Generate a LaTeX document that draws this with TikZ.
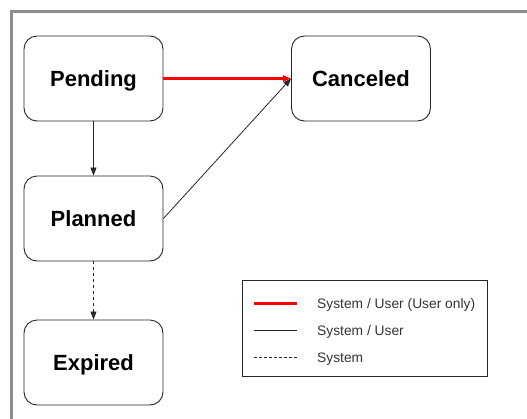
\documentclass[tikz,border=0pt]{standalone}
\usepackage{fontspec}
\setmainfont{Liberation Sans}
\usetikzlibrary{arrows.meta}
\usetikzlibrary{positioning}
\tikzstyle{state}=[draw=black!85,fill=white,rounded corners=13pt,line width=0.9pt,minimum width=139pt,minimum height=85pt,text height=15.5pt,text depth=0pt,font=\fontsize{22}{24}\selectfont\bfseries]
\tikzstyle{legendtext}=[anchor=base west,inner sep=0pt,text=black!80,font=\fontsize{13.8}{16}\selectfont]

\begin{document}
\begin{tikzpicture}[x=1pt,y=-1pt,>={Triangle[length=8pt,width=6pt]}]
\tikzstyle{both}=[draw=black!85,line width=0.8pt,->]
\tikzstyle{useronly}=[draw=red,line width=2.6pt,->]
\tikzstyle{system}=[draw=black!85,line width=0.8pt,dash pattern=on 3pt off 3pt,->]
\useasboundingbox (0,0) rectangle (527,418);
\draw[black!45,line width=3pt] (11,420) |- (530,11);
% states
\node [state] (p) at (93.5,78.5) {Pending};
\node [state] (c) at (361,78.5) {Canceled};
\node [state] (pl) at (93.5,218.5) {Planned};
\node [state] (e) at (93.5,362.5) {Expired};
% transitions
\draw [useronly] (p) -- (c);
\draw [both] (p) -- (pl);
\draw [both] (pl.east) -- (c.west);
\draw [system] (pl) -- (e);
% legend
\draw [black!85,line width=0.9pt] (242,280) rectangle (487,376);
\draw [red,line width=3pt] (254,303) -- (297,303);
\draw [black!85,line width=0.8pt] (254,330) -- (297,330);
\draw [black!85,line width=0.8pt,dash pattern=on 2.5pt off 2.5pt] (254,357) -- (297,357);
\node [legendtext] (l1) at (317,308) {System / User (User only)};
\node [legendtext] (l2) at (317,335) {System / User};
\node [legendtext] (l3) at (317,362) {System};
\end{tikzpicture}
\end{document}
